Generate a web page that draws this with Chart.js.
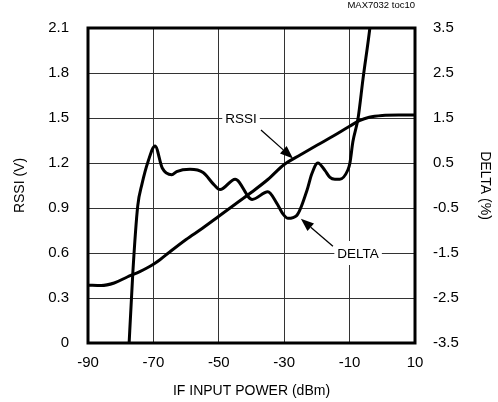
<!DOCTYPE html>
<html>
<head>
<meta charset="utf-8">
<script src="https://cdn.jsdelivr.net/npm/chart.js@4.4.1/dist/chart.umd.min.js"></script>
<style>
    html, body { margin: 0; padding: 0; background: #fff; }
    #wrap { position: relative; width: 498px; height: 402px; }
</style>
</head>
<body>
<div id="wrap"><canvas id="chart"></canvas></div>
<script>
// values
const powerRssi = [-90, -86, -82, -78, -74, -72, -70, -68, -65, -60, -55, -50, -45, -40, -35, -30, -25, -20, -15, -10, -7, -4, 0, 5, 10];
const rssiVolts = [0.385, 0.383, 0.40, 0.44, 0.478, 0.50, 0.525, 0.555, 0.607, 0.69, 0.765, 0.845, 0.925, 1.005, 1.09, 1.19, 1.255, 1.318, 1.38, 1.445, 1.482, 1.505, 1.517, 1.52, 1.52];

const powerDelta = [-77.7, -76.3, -74.8, -73.5, -71.6, -69.5, -67.3, -64.4, -62.9, -58.8, -54.8, -51.5, -49.6, -45.0, -39.8, -35.0, -32.3, -30.4, -28.8, -26.2, -23.0, -21.6, -19.7, -17.5, -16.0, -14.5, -13.0, -10.5, -9.9, -9.0, -7.4, -5.9, -3.8, -3.2];
const deltaPct = [-3.9, -1.95, -0.46, 0.03, 0.54, 0.88, 0.39, 0.24, 0.31, 0.36, 0.29, 0.02, -0.09, 0.14, -0.31, -0.14, -0.39, -0.63, -0.73, -0.67, -0.10, 0.25, 0.50, 0.33, 0.18, 0.14, 0.14, 0.35, 0.5, 0.97, 1.5, 2.37, 3.5, 3.9];

const xTicks = [-90, -70, -50, -30, -10, 10];
const rssiTicks = [0, 0.3, 0.6, 0.9, 1.2, 1.5, 1.8, 2.1];
const deltaTicks = [-3.5, -2.5, -1.5, -0.5, 0.5, 1.5, 2.5, 3.5];

// callouts: label position, arrow start, arrow tip (data coords)
const callouts = [
    { text: "RSSI", axis: "y", at: [-43.2, 1.5], from: [-37.1, 1.42], to: [-27.3, 1.23] },
    { text: "DELTA", axis: "y2", at: [-7.4, -1.5], from: [-15.1, -1.35], to: [-24.9, -0.74] }
];

const FONT = "'Liberation Sans Narrow', 'Arial Narrow', 'Liberation Sans', Arial, sans-serif";

function toPoints(xs, ys) {
    let pts = [];
    for (let i = 0; i < xs.length; i++) {
        pts.push({ x: xs[i], y: ys[i] });
    }
    return pts;
}

const decor = {
    id: "decor",
    afterDatasetsDraw(chart) {
        const ctx = chart.ctx;
        const xs = chart.scales.x;
        const area = chart.chartArea;

        ctx.save();
        ctx.font = "13.5px " + FONT;
        ctx.textAlign = "center";
        ctx.textBaseline = "middle";

        callouts.forEach(function (c) {
            let ys = chart.scales[c.axis];
            let cx = xs.getPixelForValue(c.at[0]);
            let cy = ys.getPixelForValue(c.at[1]);
            let w = ctx.measureText(c.text).width + 6;

            ctx.fillStyle = "#fff";
            ctx.fillRect(cx - w / 2, cy - 12, w, 24);
            ctx.fillStyle = "#000";
            ctx.fillText(c.text, cx, cy + 1);

            // arrow
            let x0 = xs.getPixelForValue(c.from[0]);
            let y0 = ys.getPixelForValue(c.from[1]);
            let x1 = xs.getPixelForValue(c.to[0]);
            let y1 = ys.getPixelForValue(c.to[1]);
            let ang = Math.atan2(y1 - y0, x1 - x0);
            let len = 13, half = 5;
            let bx = x1 - len * Math.cos(ang);
            let by = y1 - len * Math.sin(ang);

            ctx.strokeStyle = "#000";
            ctx.lineWidth = 1.3;
            ctx.beginPath();
            ctx.moveTo(x0, y0);
            ctx.lineTo(bx, by);
            ctx.stroke();

            ctx.beginPath();
            ctx.moveTo(x1, y1);
            ctx.lineTo(bx + half * Math.sin(ang), by - half * Math.cos(ang));
            ctx.lineTo(bx - half * Math.sin(ang), by + half * Math.cos(ang));
            ctx.closePath();
            ctx.fill();
        });

        // frame
        ctx.lineWidth = 3;
        ctx.strokeRect(area.left, area.top, area.right - area.left, area.bottom - area.top);

        // figure id
        ctx.font = "9.5px " + FONT;
        ctx.textAlign = "right";
        ctx.textBaseline = "middle";
        ctx.fillText("MAX7032 toc10", area.right, 5);
        ctx.restore();
    }
};

const tickFont = { family: FONT, size: 15 };
const titleFont = { family: FONT, size: 14 };

new Chart(document.getElementById("chart"), {
    type: "line",
    data: {
        datasets: [{
            label: "RSSI",
            data: toPoints(powerRssi, rssiVolts),
            yAxisID: "y",
            borderColor: "#000",
            borderWidth: 3,
            pointRadius: 0,
            cubicInterpolationMode: "monotone"
        }, {
            label: "DELTA",
            data: toPoints(powerDelta, deltaPct),
            yAxisID: "y2",
            borderColor: "#000",
            borderWidth: 3,
            pointRadius: 0,
            cubicInterpolationMode: "monotone"
        }]
    },
    options: {
        responsive: true,
        maintainAspectRatio: false,
        animation: false,
        layout: { padding: { top: 14, left: 0, right: 0, bottom: 0 } },
        plugins: { legend: { display: false }, tooltip: { enabled: false } },
        scales: {
            x: {
                type: "linear",
                min: -90,
                max: 10,
                afterBuildTicks: function (s) { s.ticks = xTicks.map(v => ({ value: v })); },
                afterFit: function (s) { s.height = 59; },
                grid: { color: "#333", lineWidth: 1, drawTicks: false },
                border: { display: false },
                ticks: { color: "#000", font: tickFont, padding: 11, maxRotation: 0 },
                title: { display: true, text: "IF INPUT POWER (dBm)", color: "#000", font: titleFont, padding: { top: 0, bottom: 2 } }
            },
            y: {
                position: "left",
                min: 0,
                max: 2.1,
                afterBuildTicks: function (s) { s.ticks = rssiTicks.map(v => ({ value: v })); },
                afterFit: function (s) { s.width = 88; },
                grid: { color: "#333", lineWidth: 1, drawTicks: false },
                border: { display: false },
                ticks: {
                    color: "#000", font: tickFont, padding: 19,
                    callback: function (v) { return v === 0 ? "0" : v.toFixed(1); }
                },
                title: { display: true, text: "RSSI (V)", color: "#000", font: titleFont, padding: { top: 12, bottom: 0 } }
            },
            y2: {
                position: "right",
                min: -3.5,
                max: 3.5,
                afterBuildTicks: function (s) { s.ticks = deltaTicks.map(v => ({ value: v })); },
                afterFit: function (s) { s.width = 83; },
                grid: { display: false, drawTicks: false },
                border: { display: false },
                ticks: {
                    color: "#000", font: tickFont, padding: 18,
                    callback: function (v) { return v.toFixed(1); }
                },
                title: { display: true, text: "DELTA (%)", color: "#000", font: titleFont, padding: { top: 5, bottom: 0 } }
            }
        }
    },
    plugins: [decor]
});
</script>
</body>
</html>
